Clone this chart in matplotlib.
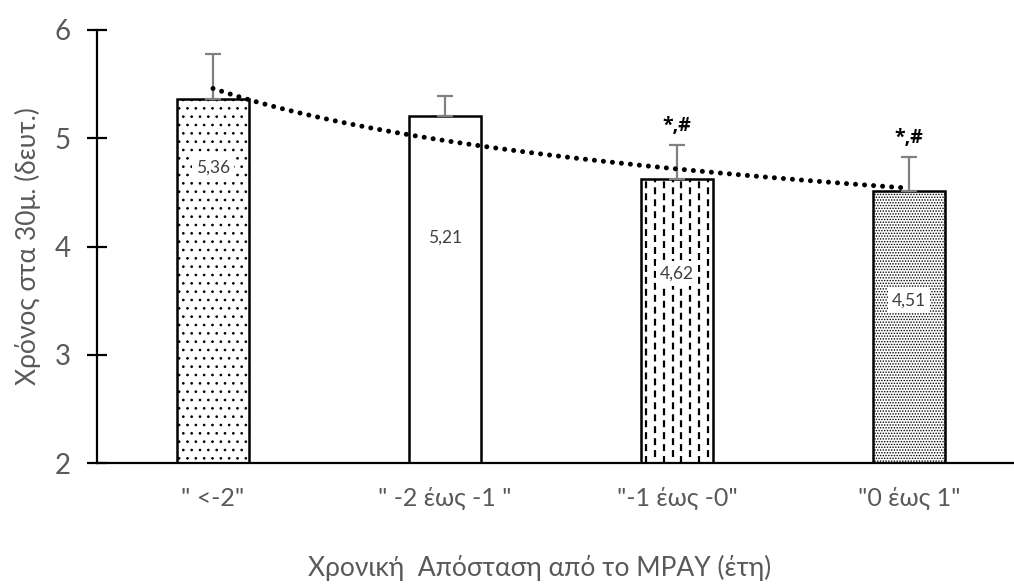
import numpy as np
import matplotlib
matplotlib.use("Agg")
import matplotlib.pyplot as plt

categories = ['" <-2"', '" -2 έως -1 "', '"-1 έως -0"', '"0 έως 1"']
values = [5.36, 5.21, 4.62, 4.51]
errors = [0.42, 0.18, 0.32, 0.32]
value_labels = ["5,36", "5,21", "4,62", "4,51"]
sig_labels = ["", "", "*,#", "*,#"]
label_y = [4.73, 4.08, 3.75, 3.50]
hatches = ['..', '', '', '......']
dashed_fill = [False, False, True, False]

plt.rcParams['font.family'] = ['Lato', 'DejaVu Sans']
plt.rcParams['hatch.linewidth'] = 0.7
plt.rcParams['lines.scale_dashes'] = False

fig = plt.figure(figsize=(10.14, 5.88), dpi=100)
W, H = 1014, 588
ax = fig.add_axes([97 / W, 1 - 463 / H, (1014 - 97) / W, (463 - 30) / H])

x = np.arange(len(categories))
base = 2.0
bw = 0.31
heights = np.array(values) - base
bars = ax.bar(x, heights, bottom=base, width=bw,
              color='white', edgecolor='black', linewidth=0, zorder=2)
for b, h in zip(bars, hatches):
    b.set_hatch(h)

# dashed vertical pattern for the third bar
ncols = 8
for xi, v, d in zip(x, values, dashed_fill):
    if not d:
        continue
    for k in range(ncols):
        xc = xi - bw / 2 + (k + 0.5) * bw / ncols
        off = 0 if k % 2 == 0 else 4.3
        ax.plot([xc, xc], [base, v], color='black', linewidth=1.6,
                linestyle=(off, (5.0, 3.6)), solid_capstyle='butt', zorder=2.05)

ax.bar(x, heights, bottom=base, width=bw, fill=False,
       edgecolor='black', linewidth=1.8, zorder=2.2)

ax.errorbar(x, values, yerr=[np.zeros(len(values)), errors], fmt='none',
            ecolor='#808080', elinewidth=1.6, capsize=6, capthick=1.6, zorder=3)

# power trendline fitted from the data
xf = x + 1.0
b_coef, lna = np.polyfit(np.log(xf), np.log(values), 1)
xs = np.linspace(1, len(values), 200)
ys = np.exp(lna) * xs ** b_coef
ax.plot(xs - 1, ys, linestyle=(0, (0.01, 6.5)), color='black', linewidth=3.6,
        dash_capstyle='round', zorder=4)

for xi, lbl, ly in zip(x, value_labels, label_y):
    ax.text(xi, ly, lbl, ha='center', va='center', fontsize=12.5, color='#404040',
            bbox=dict(facecolor='white', edgecolor='none', pad=3), zorder=5)

for xi, s, v, e in zip(x, sig_labels, values, errors):
    if s:
        ax.text(xi, v + e + 0.08, s, ha='center', va='bottom', fontsize=14,
                fontweight='bold', color='black', zorder=5,
                family=['Open Sans', 'DejaVu Sans'])

ax.set_xlim(-0.5, (1014 - 97) / 232 - 0.5)
ax.set_ylim(2, 6)
ax.set_yticks([2, 3, 4, 5, 6])
ax.set_xticks(x)
ax.set_xticklabels(categories)
for s in ['top', 'right']:
    ax.spines[s].set_visible(False)
ax.spines['left'].set_linewidth(1.6)
ax.spines['bottom'].set_linewidth(1.6)
ax.tick_params(axis='y', direction='inout', length=14, width=1.6,
               labelsize=20, labelcolor='#595959', pad=12)
ax.tick_params(axis='x', length=0, labelsize=18, labelcolor='#595959', pad=17)
ax.set_ylabel("Χρόνος στα 30μ. (δευτ.)", fontsize=19, color='#595959', labelpad=10)
fig.text(540 / W, 1 - 568 / H, "Χρονική  Απόσταση από το ΜΡΑΥ (έτη)",
         ha='center', va='center', fontsize=19, color='#595959')

fig.savefig("out.png", dpi=100)
